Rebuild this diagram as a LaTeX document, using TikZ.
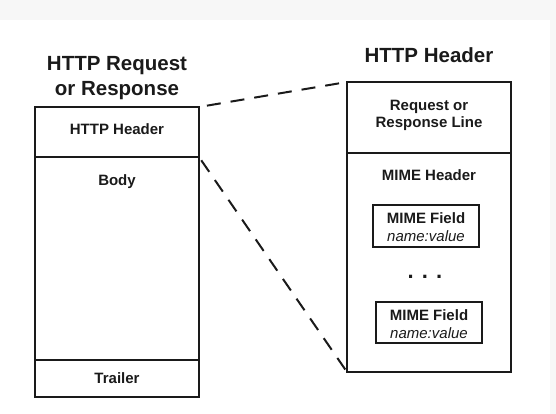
\documentclass[tikz,border=0pt]{standalone}
\usepackage{fontspec}
\setmainfont{Liberation Sans}
\definecolor{ink}{HTML}{1A1A1A}
\definecolor{band}{HTML}{F7F7F7}
\begin{document}
\begin{tikzpicture}[x=1pt,y=-1pt,
  box/.style={draw=ink, line width=2.6pt, inner sep=0pt, outer sep=0pt, anchor=north west},
  fieldbox/.style={draw=ink, line width=2pt, inner sep=0pt, outer sep=0pt, anchor=north west},
  title/.style={text=ink, anchor=base, inner sep=0pt, font=\fontsize{20.5}{25}\selectfont\bfseries},
  lbl/.style={text=ink, anchor=base, inner sep=0pt, font=\fontsize{15}{17}\selectfont\bfseries},
  ilbl/.style={text=ink, anchor=base, inner sep=0pt, font=\fontsize{15}{17}\selectfont\itshape},
  dashline/.style={draw=ink, line width=2pt, dash pattern=on 14pt off 10pt}]
\useasboundingbox (0,0) rectangle (556,414);
\fill[band] (0,0) rectangle (556,20);
\fill[band] (550,20) rectangle (556,414);
% left stack
\node[box, minimum width=164pt, minimum height=50pt] (lhead) at (35,107) {};
\node[box, minimum width=164pt, minimum height=203pt] (lbody) at (35,157) {};
\node[box, minimum width=164pt, minimum height=37pt] (ltrail) at (35,360) {};
% right stack
\node[box, minimum width=164pt, minimum height=71pt] (rline) at (347,82) {};
\node[box, minimum width=164pt, minimum height=219pt] (rmime) at (347,153) {};
\node[fieldbox, minimum width=106pt, minimum height=42pt] (f1) at (373,205) {};
\node[fieldbox, minimum width=106pt, minimum height=41pt] (f2) at (376,302) {};
% titles
\node[title] (lt1) at (117,71) {HTTP Request};
\node[title] (lt2) at (117,96) {or Response};
\node[title] (rt) at (429,63) {HTTP Header};
% left labels
\node[lbl] (lh) at (117,135) {HTTP Header};
\node[lbl] (lb) at (117,185) {Body};
\node[lbl] (ltr) at (117,383) {Trailer};
% right labels
\node[lbl] (rl1) at (429,111) {Request or};
\node[lbl] (rl2) at (429,127.5) {Response Line};
\node[lbl] (rm) at (429,180) {MIME Header};
\node[lbl] (f1a) at (f1.center) [yshift=3pt] {MIME Field};
\node[ilbl] (f1b) at (f1.center) [yshift=-15.5pt] {name:value};
\node[lbl] (f2a) at (f2.center) [yshift=2.5pt] {MIME Field};
\node[ilbl] (f2b) at (f2.center) [yshift=-15.5pt] {name:value};
\node[text=ink, anchor=base, inner sep=0pt, font=\fontsize{22}{24}\selectfont\bfseries] (dots) at (425,278) {. . .};
% connectors
\draw[dashline, shorten <=8pt, shorten >=4pt] (lhead.north east) -- (rline.north west);
\draw[dashline, shorten <=4pt, shorten >=1pt] (lhead.south east) -- (rmime.south west);
\end{tikzpicture}
\end{document}
